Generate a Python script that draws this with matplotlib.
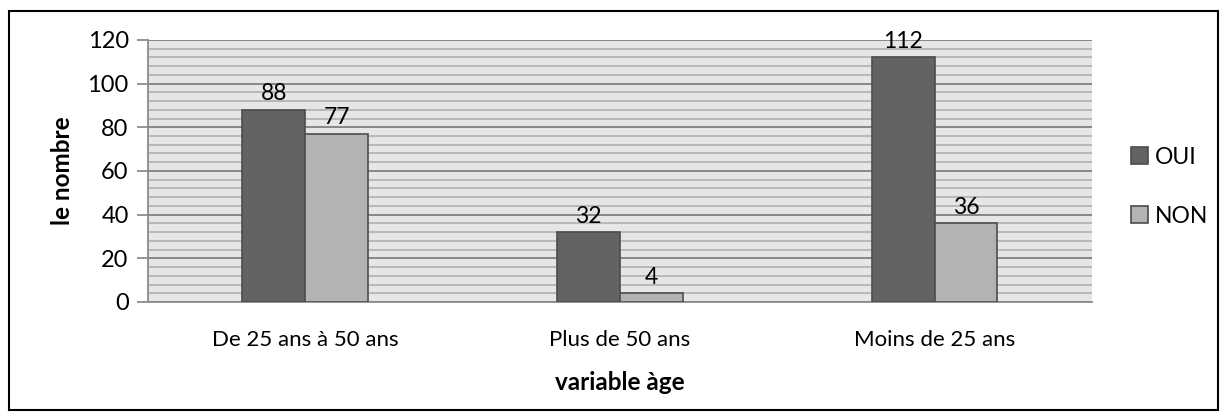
import numpy as np
import matplotlib
matplotlib.use("Agg")
import matplotlib.pyplot as plt
from matplotlib.patches import Rectangle
from matplotlib.ticker import MultipleLocator

categories = ["De 25 ans à 50 ans", "Plus de 50 ans", "Moins de 25 ans"]
oui = [88, 32, 112]
non = [77, 4, 36]
series_names = ["OUI", "NON"]

plt.rcParams["font.family"] = ["Lato", "DejaVu Sans"]

fig = plt.figure(figsize=(12.24, 4.2), dpi=100)
ax = fig.add_axes([0.121, 0.281, 0.771, 0.624])

# outer frame around the whole chart
fig.patches.append(Rectangle((0.007, 0.024), 0.988, 0.95, transform=fig.transFigure,
                             fill=False, edgecolor="black", linewidth=1.5))

x = np.arange(len(categories))
w = 0.2
colors = ["#636363", "#b3b3b3"]
edge = "#4d4d4d"

b1 = ax.bar(x - w/2, oui, w, color=colors[0], edgecolor=edge, linewidth=1.2,
            label=series_names[0], zorder=3)
b2 = ax.bar(x + w/2, non, w, color=colors[1], edgecolor=edge, linewidth=1.2,
            label=series_names[1], zorder=3)

for bars, vals in [(b1, oui), (b2, non)]:
    for rect, v in zip(bars, vals):
        ax.annotate(str(v), (rect.get_x() + rect.get_width()/2, v),
                    xytext=(0, 4), textcoords="offset points",
                    ha="center", va="bottom", fontsize=16.5, zorder=4)

ax.set_xlim(-0.5, 2.5)
ax.set_ylim(0, 120)
ax.set_facecolor("#e6e6e6")
ax.yaxis.set_major_locator(MultipleLocator(20))
ax.yaxis.set_minor_locator(MultipleLocator(4))
ax.grid(which="major", axis="y", color="#7f7f7f", linewidth=1.3, zorder=1)
ax.grid(which="minor", axis="y", color="#b5b5b5", linewidth=1.3, zorder=1)
ax.set_axisbelow(True)

for side in ["top", "right"]:
    ax.spines[side].set_visible(False)
ax.spines["left"].set_color("#8c8c8c")
ax.spines["bottom"].set_color("#8c8c8c")
ax.spines["left"].set_linewidth(1.3)
ax.spines["bottom"].set_linewidth(1.3)

ax.set_xticks(x)
ax.set_xticklabels(categories, fontsize=16)
ax.tick_params(axis="x", length=0, pad=20)
ax.tick_params(axis="y", which="major", length=8, color="#8c8c8c", width=1.3,
               labelsize=17, pad=6)
ax.tick_params(axis="y", which="minor", length=0)

ax.set_xlabel("variable àge", fontsize=17.5, fontweight="bold", labelpad=15)
ax.set_ylabel("le nombre", fontsize=17.5, fontweight="bold", labelpad=10)

ax.legend(loc="center left", bbox_to_anchor=(1.02, 0.44), frameon=False,
          fontsize=16.5, handlelength=0.75, handleheight=0.75, labelspacing=1.65,
          handletextpad=0.3)

fig.savefig("out.png", dpi=100)
